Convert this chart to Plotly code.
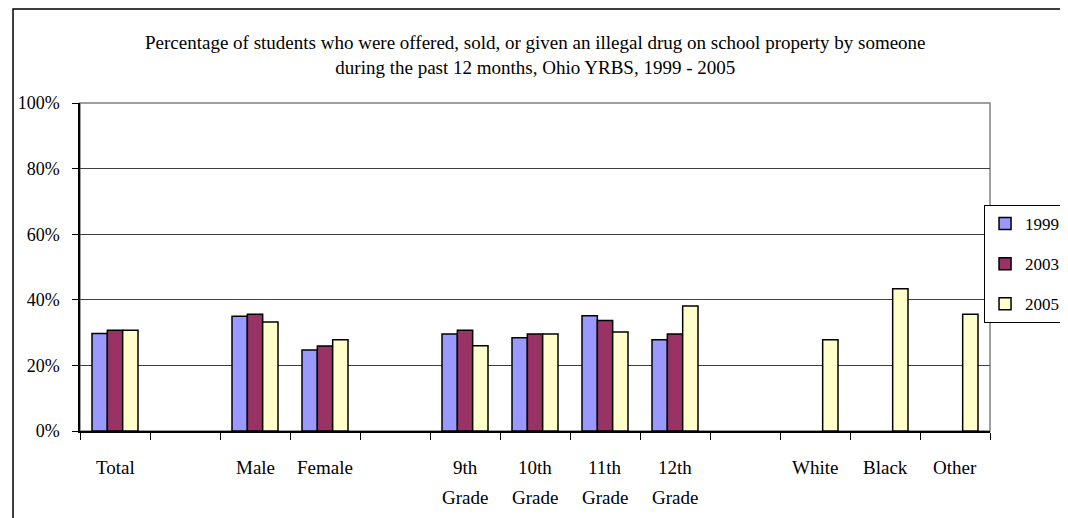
import plotly.graph_objects as go

categories = ["Total", "", "Male", "Female", "", "9th Grade", "10th Grade", "11th Grade",
              "12th Grade", "", "White", "Black", "Other"]
years = ["1999", "2003", "2005"]
v1999 = [29.7, None, 35.0, 24.7, None, 29.6, 28.4, 35.1, 27.8, None, None, None, None]
v2003 = [30.7, None, 35.6, 25.9, None, 30.7, 29.6, 33.7, 29.6, None, None, None, None]
v2005 = [30.7, None, 33.2, 27.8, None, 26.0, 29.6, 30.2, 38.1, None, 27.8, 43.4, 35.6]
colors = ["#9999FF", "#993366", "#FFFFCC"]
y_ticks = [0, 20, 40, 60, 80, 100]
title_lines = ["Percentage of students who were offered, sold, or given an illegal drug on school property by someone",
               "during the past 12 months, Ohio YRBS, 1999 - 2005"]

FONT = "Liberation Serif"
xs = list(range(len(categories)))

fig = go.Figure()
for name, vals, col in zip(years, [v1999, v2003, v2005], colors):
    fig.add_trace(go.Bar(x=xs, y=vals, name=name, legendgroup=name,
                         marker=dict(color=col, line=dict(color="black", width=1.5))))

# category labels (two lines, wide spacing)
for i, lab in enumerate(categories):
    if not lab:
        continue
    parts = lab.split(" ")
    for j, p in enumerate(parts):
        fig.add_annotation(x=i, y=0, xref="x", yref="paper", text=p, showarrow=False,
                           yanchor="middle", xanchor="center", yshift=-36 - 30 * j,
                           font=dict(family=FONT, size=19, color="black"))

# plot-area border (gray)
fig.add_shape(type="rect", xref="paper", yref="paper", x0=0, x1=1, y0=0, y1=1,
              line=dict(color="#808080", width=1.5), layer="below")
# outer chart border
fig.add_shape(type="rect", xref="paper", yref="paper", x0=-0.0736, x1=1.2, y0=-0.4, y1=1.2866,
              line=dict(color="black", width=1.5), layer="below")

fig.add_annotation(x=0.5, xref="paper", y=1, yref="paper", yanchor="middle",
                   text="<br>".join(title_lines), showarrow=False, yshift=48,
                   font=dict(family=FONT, size=19, color="black"), align="center")

fig.update_layout(
    template="none",
    width=1068, height=518,
    margin=dict(l=72, r=86, t=95, b=95, autoexpand=False),
    paper_bgcolor="white", plot_bgcolor="white",
    barmode="group", bargap=0.343, bargroupgap=0,
    font=dict(family=FONT, size=19, color="black"),
    showlegend=True,
    legend=dict(xref="container", yref="container", x=0.9139, xanchor="left",
                y=0.6197, yanchor="top",
                bordercolor="black", borderwidth=1, bgcolor="white",
                font=dict(family=FONT, size=17, color="black"),
                tracegroupgap=15, traceorder="grouped"),
    xaxis=dict(range=[-0.5, len(categories) - 0.5], tickmode="array",
               tickvals=[i - 0.5 for i in range(len(categories) + 1)],
               showticklabels=False, ticks="outside", ticklen=7, tickcolor="black",
               showline=True, linecolor="black", linewidth=1.5, showgrid=False,
               zeroline=False, automargin=False),
    yaxis=dict(range=[0, 100], tickmode="array", tickvals=y_ticks,
               ticktext=[f"{t}%" for t in y_ticks],
               ticks="outside", ticklen=6, tickcolor="black", ticklabelstandoff=9,
               showline=True, linecolor="black", linewidth=1.5,
               showgrid=True, gridcolor="#404040", gridwidth=1, zeroline=False,
               automargin=False,
               tickfont=dict(family=FONT, size=18, color="black")),
)

fig.write_html("out.html")
